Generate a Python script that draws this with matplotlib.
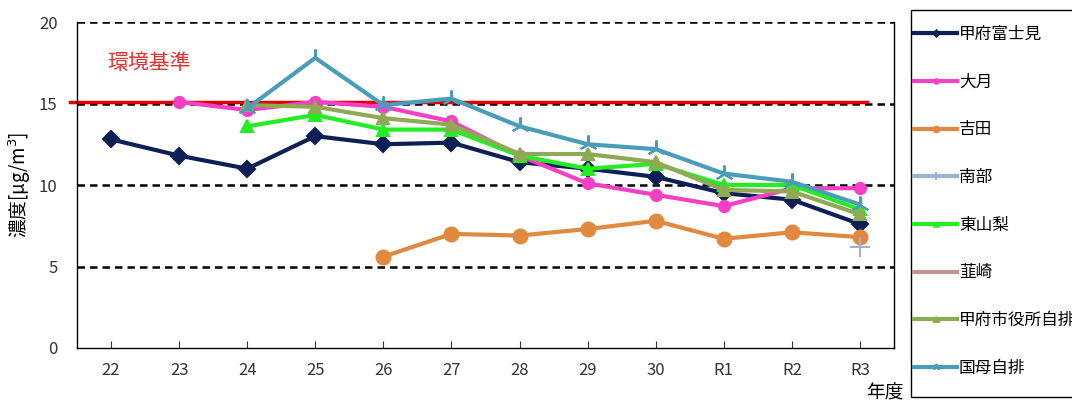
import numpy as np
import matplotlib
matplotlib.use("Agg")
import matplotlib.pyplot as plt
from matplotlib.patches import Rectangle

plt.rcParams['font.family'] = ['Noto Sans CJK JP', 'DejaVu Sans']

years = ['22', '23', '24', '25', '26', '27', '28', '29', '30', 'R1', 'R2', 'R3']
nan = np.nan

kofu_fujimi = [12.8, 11.8, 11.0, 13.0, 12.5, 12.6, 11.4, 11.0, 10.5, 9.5, 9.1, 7.6]
otsuki = [nan, 15.1, 14.6, 15.1, 14.8, 13.9, 11.8, 10.1, 9.4, 8.7, 9.8, 9.8]
yoshida = [nan, nan, nan, nan, 5.6, 7.0, 6.9, 7.3, 7.8, 6.7, 7.1, 6.8]
nanbu = [nan, nan, nan, nan, nan, nan, nan, nan, nan, nan, nan, 6.2]
higashiyamanashi = [nan, nan, 13.6, 14.3, 13.4, 13.4, 11.8, 11.0, 11.3, 10.0, 10.0, 8.5]
nirasaki = [nan] * 12
kofu_city = [nan, nan, 14.9, 14.8, 14.1, 13.7, 11.9, 11.9, 11.4, 9.7, 9.6, 8.2]
kokubo = [nan, nan, 14.7, 17.8, 14.9, 15.3, 13.6, 12.5, 12.2, 10.7, 10.2, 8.8]

standard = 15.1

series = [
    ('甲府富士見', kofu_fujimi, '#0e1f55', 'D', 8),
    ('大月', otsuki, '#f53fc4', 'o', 8),
    ('吉田', yoshida, '#e0893f', 'o', 10),
    ('南部', nanbu, '#9db2d1', '+', 14),
    ('東山梨', higashiyamanashi, '#22ee22', '^', 8),
    ('韮崎', nirasaki, '#c49393', 'None', 8),
    ('甲府市役所自排', kofu_city, '#8fa954', '^', 9),
    ('国母自排', kokubo, '#4a9db9', (3, 2, 0), 13),
]

fig = plt.figure(figsize=(10.72, 4.03), dpi=100)
ax = fig.add_axes([77 / 1072, 55 / 403, 817 / 1072, 326 / 403])

x = np.arange(len(years))

for y in [5, 10, 15, 20]:
    ax.axhline(y, color='black', lw=1.8, ls=(0, (3, 2)), zorder=1)

ax.plot([-0.6, 11.1], [standard, standard], color='#e00000', lw=2.5,
        zorder=2, clip_on=False)
ax.text(-0.06, 17.5, '環境基準', color='#e03030', fontsize=15,
        va='center', ha='left')

handles = []
for name, vals, color, marker, ms in series:
    h, = ax.plot(x, vals, color=color, lw=3, marker=marker, markersize=ms,
                 markeredgecolor=color, markeredgewidth=1.5, label=name,
                 zorder=3)
    handles.append(h)

ax.set_xlim(-0.5, 11.5)
ax.set_ylim(0, 20)
ax.set_xticks(x)
ax.set_xticklabels(years)
ax.set_yticks([0, 5, 10, 15, 20])
ax.tick_params(axis='x', direction='in', length=5, pad=10, labelsize=12,
               colors='#333333')
ax.tick_params(axis='y', length=0, pad=14, labelsize=12, colors='#333333')
ax.spines['top'].set_visible(False)
for s in ['left', 'right', 'bottom']:
    ax.spines[s].set_linewidth(1.0)

ax.set_ylabel('濃度[μg/m$^3$]', fontsize=13.5, va='center')
ax.yaxis.set_label_coords(-57 / 817, 0.5)
fig.text(866 / 1072, 1 - 393 / 403, '年度', fontsize=13.5, ha='left',
         va='center')

# legend frame drawn separately so the box can run past the figure edge
fig.patches.append(Rectangle((911 / 1072, 1 - 397 / 403), 200 / 1072,
                             387 / 403, transform=fig.transFigure,
                             facecolor='white', edgecolor='black', lw=1.0,
                             zorder=0))
leg = fig.legend(handles=handles, loc='upper left',
                 bbox_to_anchor=(914 / 1072, 1 - 26 / 403),
                 frameon=False, fontsize=12, labelspacing=1.84,
                 handlelength=2.6, handletextpad=0.1, borderpad=0,
                 markerscale=0.4, borderaxespad=0)

fig.savefig('out.png', dpi=100)
